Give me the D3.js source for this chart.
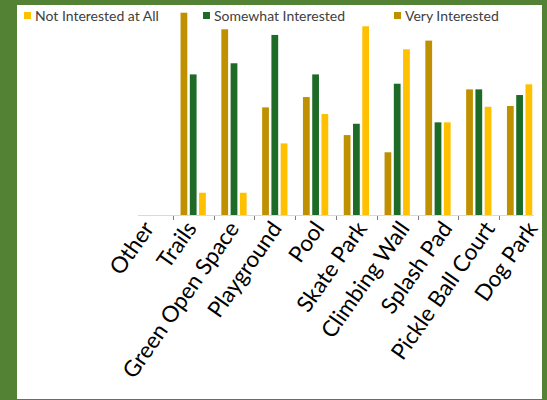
<!DOCTYPE html>
<html>
<head>
<meta charset="utf-8">
<script src="https://cdn.jsdelivr.net/npm/d3@7"></script>
<style>
  html, body { margin: 0; padding: 0; background: #548235; }
  svg { display: block; }
</style>
</head>
<body>
<svg id="chart" width="547" height="400"></svg>
<script>
const categories = ['Other', 'Trails', 'Green Open Space', 'Playground', 'Pool', 'Skate Park',
  'Climbing Wall', 'Splash Pad', 'Pickle Ball Court', 'Dog Park'];

// percent of respondents
const veryInterested = [null, 100, 91.8, 53.2, 58.3, 39.5, 31, 86.2, 62.1, 53.9];
const somewhatInterested = [null, 69.5, 75, 89, 69.5, 45.1, 64.9, 45.8, 62.1, 59.3];
const notInterested = [null, 11, 11, 35.4, 49.9, 93.3, 81.9, 45.8, 53.5, 64.6];

const series = [
  { key: 'Very Interested', values: veryInterested, color: '#bf9000' },
  { key: 'Somewhat Interested', values: somewhatInterested, color: '#1e6b28' },
  { key: 'Not Interested at All', values: notInterested, color: '#ffc000' },
];
const legendOrder = ['Not Interested at All', 'Somewhat Interested', 'Very Interested'];

const svg = d3.select('#chart');
const width = 547;
const height = 400;

svg.append('rect')
  .attr('width', width).attr('height', height)
  .attr('fill', '#548235');
svg.append('rect')
  .attr('x', 17).attr('y', 5)
  .attr('width', 525).attr('height', 394)
  .attr('fill', '#ffffff');

const baseY = 215;

const x = d3.scaleBand()
  .domain(categories)
  .range([132, 540])
  .paddingInner(0.38)
  .paddingOuter(0.19);

const x1 = d3.scaleBand()
  .domain(series.map((s) => s.key))
  .range([0, x.bandwidth()])
  .paddingInner(0.27);

// the labels sit on a slightly wider spacing than the bars
const labelX = d3.scalePoint()
  .domain(categories)
  .range([148.5, 532]);

const y = d3.scaleLinear()
  .domain([0, 100])
  .range([baseY, 12.7]);

// bars
const groups = svg.append('g')
  .selectAll('g')
  .data(categories)
  .join('g')
  .attr('transform', (d) => `translate(${x(d)},0)`);

groups.selectAll('rect')
  .data((d, i) => series
    .filter((s) => s.values[i] != null)
    .map((s) => ({ key: s.key, value: s.values[i], color: s.color })))
  .join('rect')
  .attr('x', (d) => x1(d.key))
  .attr('y', (d) => y(d.value))
  .attr('width', x1.bandwidth())
  .attr('height', (d) => y(0) - y(d.value))
  .attr('fill', (d) => d.color);

// category axis
const half = x.step() * x.paddingInner() / 2;
const axis = svg.append('g');
axis.append('line')
  .attr('x1', x(categories[0]) - half + 6)
  .attr('x2', x(categories[categories.length - 1]) + x.bandwidth() + half - 6)
  .attr('y1', baseY + 0.5).attr('y2', baseY + 0.5)
  .attr('stroke', '#d9d9d9')
  .attr('stroke-width', 1.2);

axis.selectAll('.tick')
  .data(categories.slice(1))
  .join('line')
  .attr('class', 'tick')
  .attr('x1', (d) => Math.round(x(d) - half) + 0.5)
  .attr('x2', (d) => Math.round(x(d) - half) + 0.5)
  .attr('y1', baseY + 1).attr('y2', baseY + 5)
  .attr('stroke', '#7f7f7f')
  .attr('stroke-width', 1);

axis.selectAll('.label')
  .data(categories)
  .join('text')
  .attr('class', 'label')
  .attr('transform', (d) => `translate(${labelX(d)},${baseY + 9}) rotate(-55)`)
  .attr('text-anchor', 'end')
  .attr('dy', '0.35em')
  .attr('font-family', 'Lato, sans-serif')
  .attr('font-size', 22.5)
  .attr('fill', '#000000')
  .text((d) => d);

// legend
const legendX = [24, 203, 394];
const legend = svg.append('g')
  .selectAll('g')
  .data(legendOrder)
  .join('g')
  .attr('transform', (d, i) => `translate(${legendX[i]},12)`);

legend.append('rect')
  .attr('width', 7).attr('height', 7)
  .attr('fill', (d) => series.find((s) => s.key === d).color);

legend.append('text')
  .attr('x', 11)
  .attr('y', 4)
  .attr('dy', '0.35em')
  .attr('font-family', 'Lato, sans-serif')
  .attr('font-size', 14)
  .attr('fill', '#404040')
  .text((d) => d);
</script>
</body>
</html>
